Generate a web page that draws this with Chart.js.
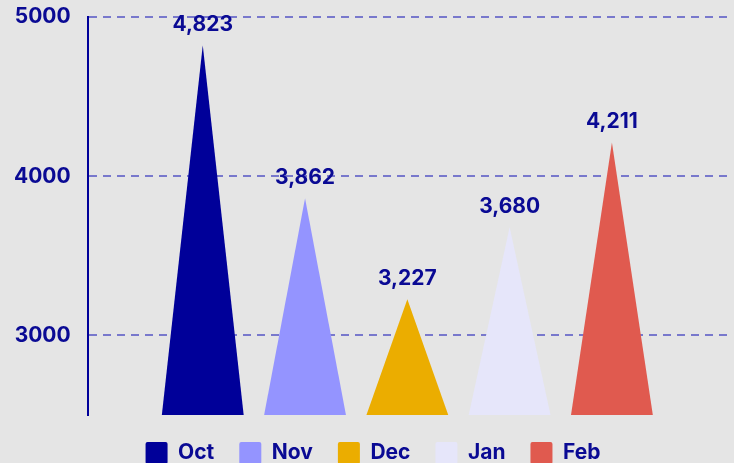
<!DOCTYPE html>
<html>
<head>
<meta charset="utf-8">
<script src="https://cdn.jsdelivr.net/npm/chart.js@4"></script>
<style>
  html, body { margin: 0; padding: 0; background: #e5e5e5; }
  #wrap { width: 734px; height: 463px; }
</style>
</head>
<body>
<div id="wrap"><canvas id="chart-sales"></canvas></div>
<script>
const months = ['Oct', 'Nov', 'Dec', 'Jan', 'Feb'];
const sales = [4823, 3862, 3227, 3680, 4211];
const colors = ['#000099', '#9494ff', '#ebad00', '#e6e6fa', '#e05a4f'];
const yTicks = [3000, 4000, 5000];

const ink = '#0a0a94';
const fontFamily = 'Inter, "Noto Sans", sans-serif';

// draw each bar as a triangle, apex at the value
const triangleBars = {
  id: 'triangleBars',
  afterLayout(chart) {
    // nudge the legend a little, as in the original
    const lg = chart.legend;
    lg.left += 11; lg.right += 11;
    lg.top += 2; lg.bottom += 2;
  },
  beforeDatasetDraw(chart, args) {
    const ctx = chart.ctx;
    const ds = chart.data.datasets[args.index];
    args.meta.data.forEach(bar => {
      const half = bar.width / 2;
      ctx.save();
      ctx.fillStyle = ds.backgroundColor;
      ctx.beginPath();
      ctx.moveTo(bar.x - half, bar.base);
      ctx.lineTo(bar.x, bar.y);
      ctx.lineTo(bar.x + half, bar.base);
      ctx.closePath();
      ctx.fill();
      ctx.restore();
    });
    return false;
  },
  afterDatasetsDraw(chart) {
    const ctx = chart.ctx;
    ctx.save();
    ctx.fillStyle = ink;
    ctx.font = '700 21px ' + fontFamily;
    ctx.textAlign = 'center';
    ctx.textBaseline = 'bottom';
    chart.data.datasets.forEach((ds, i) => {
      chart.getDatasetMeta(i).data.forEach((bar, j) => {
        ctx.fillText(ds.data[j].toLocaleString('en-US'), bar.x, bar.y - 10);
      });
    });
    ctx.restore();
  }
};

new Chart(document.getElementById('chart-sales'), {
  type: 'bar',
  data: {
    labels: [''],
    datasets: months.map((m, i) => ({
      label: m,
      data: [sales[i]],
      base: 2500,
      backgroundColor: colors[i]
    }))
  },
  options: {
    responsive: true,
    maintainAspectRatio: false,
    animation: false,
    layout: { padding: { top: 17, right: 7, left: -3, bottom: -9 } },
    datasets: { bar: { categoryPercentage: 0.8, barPercentage: 0.8 } },
    scales: {
      x: { display: false },
      y: {
        min: 2500,
        max: 5000,
        afterBuildTicks: scale => { scale.ticks = yTicks.map(v => ({ value: v })); },
        afterFit: scale => { scale.paddingTop = 0; scale.paddingBottom = 0; },
        grid: { color: '#7878cc', lineWidth: 2, drawTicks: false },
        border: { display: true, color: '#000099', width: 2, dash: [8, 6] },
        ticks: {
          color: ink,
          padding: 17,
          callback: v => String(v),
          font: { family: fontFamily, size: 21, weight: '700' }
        }
      }
    },
    plugins: {
      tooltip: { enabled: false },
      legend: {
        position: 'bottom',
        labels: {
          color: ink,
          boxWidth: 22,
          boxHeight: 22,
          useBorderRadius: true,
          borderRadius: 2,
          padding: 25,
          font: { family: fontFamily, size: 21, weight: '700' }
        }
      }
    }
  },
  plugins: [triangleBars]
});
</script>
</body>
</html>
